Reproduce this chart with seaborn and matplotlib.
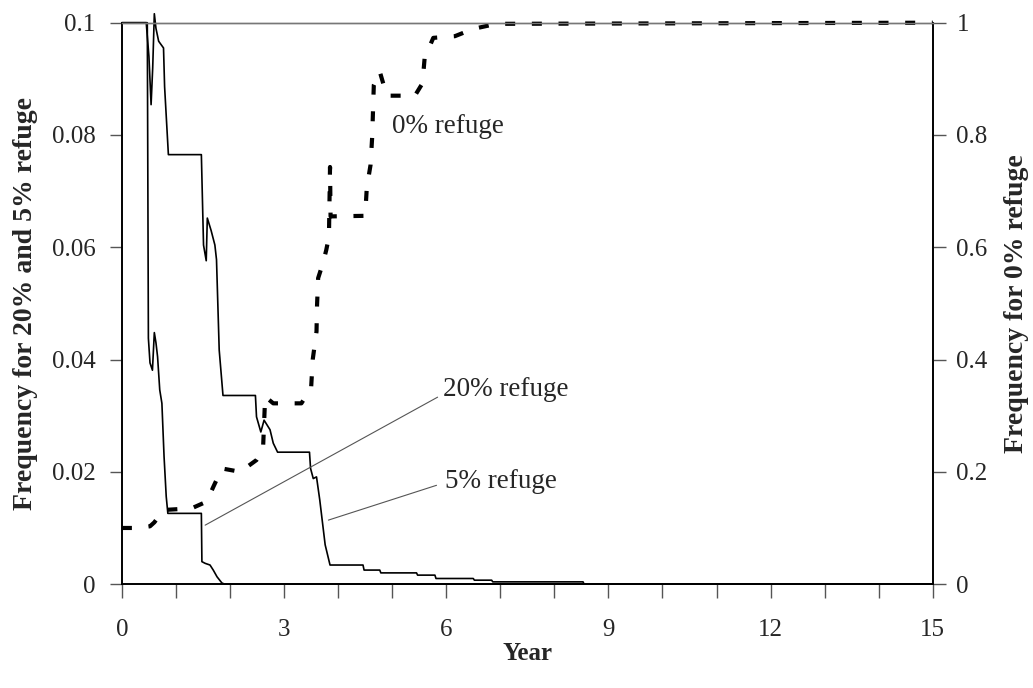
import matplotlib.pyplot as plt
import matplotlib.ticker as mticker
import pandas as pd
import seaborn as sns

# 5% refuge (left axis)
year_5 = [0, 0.45, 0.50, 0.54, 0.57, 0.60, 0.63, 0.68, 0.77, 0.79, 0.86, 1.47, 1.51,
          1.56, 1.58, 1.65, 1.72, 1.75, 1.80, 1.87, 2.47, 2.49, 2.57, 2.63, 2.74, 2.80,
          2.88, 3.47, 3.49, 3.54, 3.60, 3.66, 3.76, 3.85, 4.46, 4.48, 4.77, 4.79, 5.45,
          5.47, 5.79, 5.81, 6.50, 6.52, 6.84, 6.86, 8.53, 8.55, 15]
freq_5 = [0.1, 0.1, 0.094, 0.0854, 0.092, 0.1016, 0.099, 0.0967, 0.0955, 0.0886, 0.0765,
          0.0765, 0.0604, 0.0576, 0.0652, 0.063, 0.0604, 0.0578, 0.0417, 0.0336, 0.0336,
          0.0298, 0.0271, 0.0292, 0.0275, 0.0251, 0.0235, 0.0235, 0.0206, 0.0188, 0.0191,
          0.015, 0.007, 0.0034, 0.0034, 0.0025, 0.0025, 0.002, 0.002, 0.0016, 0.0016,
          0.001, 0.001, 0.0007, 0.0007, 0.0004, 0.0004, 0, 0]

# 20% refuge (left axis)
year_20 = [0, 0.47, 0.49, 0.52, 0.565, 0.60, 0.63, 0.66, 0.70, 0.74, 0.78, 0.82, 0.85,
           1.47, 1.48, 1.54, 1.63, 1.69, 1.76, 1.85, 1.90, 15]
freq_20 = [0.1, 0.1, 0.0438, 0.0394, 0.0381, 0.0448, 0.043, 0.0405, 0.0346, 0.0322,
           0.0227, 0.0156, 0.0126, 0.0126, 0.004, 0.0037, 0.0034, 0.0025, 0.0013,
           0.0002, 0, 0]

# 0% refuge (right axis)
year_0 = [0, 0.3, 0.52, 0.6, 0.77, 1.29, 1.57, 1.69, 1.85, 2.19, 2.49, 2.61, 2.63, 2.65,
          2.80, 3.32, 3.50, 3.53, 3.60, 3.61, 3.63, 3.72, 3.78, 3.83, 3.85, 3.86, 4.50,
          4.53, 4.60, 4.63, 4.66, 4.77, 4.90, 5.42, 5.56, 5.60, 5.76, 6.16, 6.50, 6.93, 15]
freq_0 = [0.1, 0.1, 0.103, 0.11, 0.132, 0.135, 0.147, 0.173, 0.206, 0.2, 0.221, 0.239,
          0.286, 0.334, 0.322, 0.322, 0.349, 0.40, 0.45, 0.497, 0.545, 0.572, 0.595,
          0.619, 0.743, 0.655, 0.656, 0.706, 0.747, 0.797, 0.889, 0.913, 0.870, 0.870,
          0.892, 0.937, 0.973, 0.976, 0.989, 0.998, 1.0]

df5 = pd.DataFrame({"year": year_5, "freq": freq_5})
df20 = pd.DataFrame({"year": year_20, "freq": freq_20})
df0 = pd.DataFrame({"year": year_0, "freq": freq_0})

sns.set_style("white")
plt.rcParams["font.family"] = ["Liberation Serif", "DejaVu Serif"]

fig, ax = plt.subplots(figsize=(10.33, 6.88), dpi=100)
fig.subplots_adjust(left=0.118, right=0.903, top=0.967, bottom=0.151)
ax2 = ax.twinx()

sns.lineplot(data=df5, x="year", y="freq", ax=ax, color="black", lw=1.2,
             estimator=None, sort=False, clip_on=False)
sns.lineplot(data=df20, x="year", y="freq", ax=ax, color="black", lw=1.2,
             estimator=None, sort=False, clip_on=False)
sns.lineplot(data=df0, x="year", y="freq", ax=ax2, color="black", lw=3.0,
             estimator=None, sort=False, linestyle=(0, (2.4, 4.0)),
             dash_capstyle="butt", clip_on=False)

ax.set_xlim(0, 15)
ax.set_ylim(0, 0.1)
ax2.set_ylim(0, 1)

ax.xaxis.set_major_locator(mticker.MultipleLocator(3))
ax.xaxis.set_minor_locator(mticker.MultipleLocator(1))
ax.yaxis.set_major_locator(mticker.MultipleLocator(0.02))
ax2.yaxis.set_major_locator(mticker.MultipleLocator(0.2))
ax.yaxis.set_major_formatter(mticker.FuncFormatter(lambda v, p: f"{v:g}"))
ax2.yaxis.set_major_formatter(mticker.FuncFormatter(lambda v, p: f"{v:g}"))

for a in (ax, ax2):
    for s in ("left", "right", "bottom"):
        a.spines[s].set_color("black")
        a.spines[s].set_linewidth(1.2)
    a.spines["top"].set_color("#777777")
    a.spines["top"].set_linewidth(1)

tick_kw = dict(direction="out", width=1, color="#555555", labelsize=18)
ax.tick_params(axis="x", which="both", bottom=True, length=10, pad=15, **tick_kw)
ax.tick_params(axis="y", left=True, right=False, length=9, pad=10, **tick_kw)
ax2.tick_params(axis="y", right=True, left=False, length=9, pad=8, **tick_kw)

ax.set_xlabel("Year", fontsize=18, fontweight="bold", labelpad=1)
ax.set_ylabel("Frequency for 20% and 5% refuge", fontsize=20, fontweight="bold",
              labelpad=10)
ax2.set_ylabel("Frequency for 0% refuge", fontsize=20, fontweight="bold", labelpad=12)

line_kw = dict(arrowstyle="-", color="#555555", lw=0.8, shrinkA=0, shrinkB=0)
ax.annotate("", xy=(1.54, 0.0105), xytext=(5.84, 0.0333), arrowprops=line_kw)
ax.annotate("", xy=(3.82, 0.0114), xytext=(5.82, 0.0176), arrowprops=line_kw)
ax.text(5.94, 0.0346, "20% refuge", fontsize=19.5, va="center", ha="left")
ax.text(5.97, 0.0182, "5% refuge", fontsize=19.5, va="center", ha="left")
ax.text(4.99, 0.0815, "0% refuge", fontsize=19.5, va="center", ha="left")

fig.savefig("out.png", dpi=100)
